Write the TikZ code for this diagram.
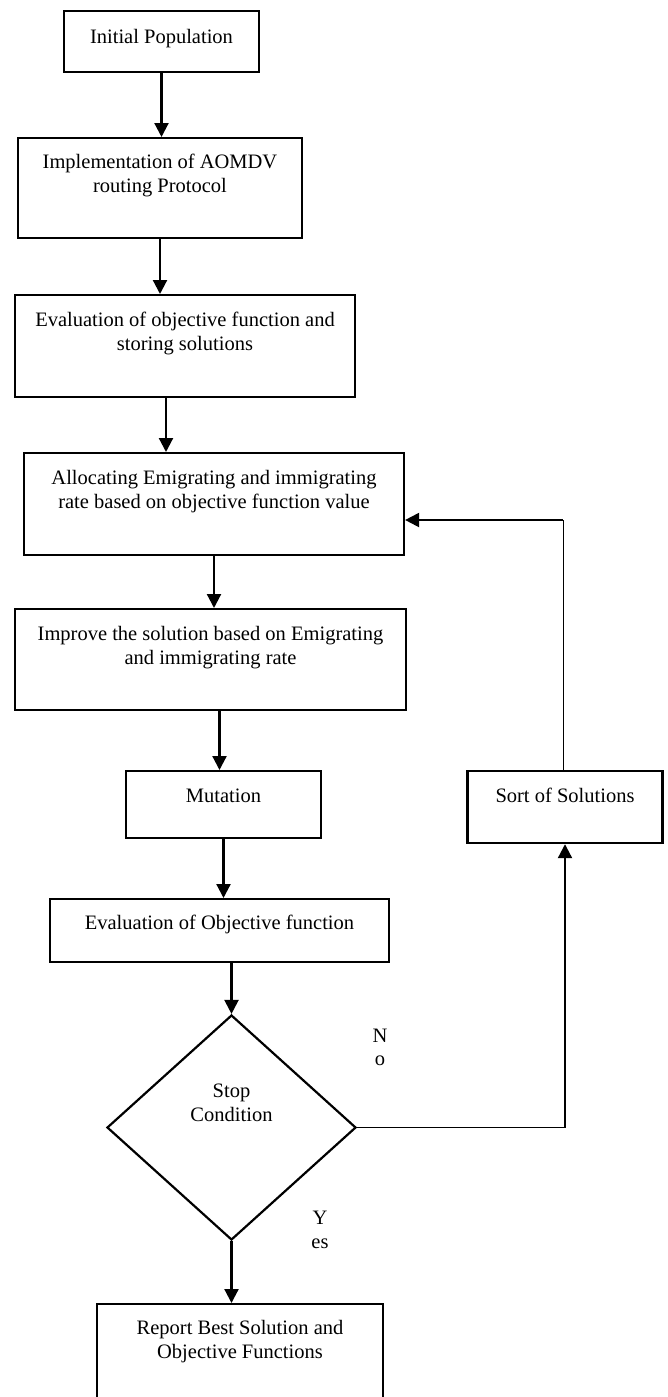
\documentclass[tikz,border=0pt]{standalone}
\usepackage{fontspec}
\setmainfont{Liberation Serif}
\usetikzlibrary{shapes.geometric,arrows.meta}
\newcommand{\myfont}{\fontsize{20.5}{24}\selectfont}
\begin{document}
\begin{tikzpicture}[x=1pt,y=-1pt,
  stepbox/.style={draw,line width=2.2pt,align=center,inner sep=0pt,anchor=north,text height=31pt,font=\myfont},
  twoline/.style={stepbox,text height=55pt},
  decision/.style={draw,diamond,line width=2.2pt,align=center,inner sep=0pt,aspect=1.107,minimum width=249pt,minimum height=225pt,text height=40pt,text depth=53pt,font=\myfont},
  flow/.style={line width=2.2pt,-{Triangle[length=14pt,width=14pt]}},
  plain/.style={line width=1pt},
  lbl/.style={inner sep=0pt,anchor=base,font=\myfont}]

 \useasboundingbox (0,0) rectangle (668,1397);
 \clip (0,0) rectangle (668,1397);

 \node[stepbox,minimum width=195pt,text height=32pt,text depth=29pt] (init) at (161.5,10) {Initial Population};
 \node[twoline,minimum width=284pt,text height=54pt,text depth=46pt] (impl) at (160,137) {Implementation of AOMDV\\routing Protocol};
 \node[twoline,minimum width=340pt,text depth=47pt] (evalobj) at (185,294) {Evaluation of objective function and\\storing solutions};
 \node[twoline,minimum width=380pt,text depth=47pt] (alloc) at (214,452) {Allocating Emigrating and immigrating\\rate based on objective function value};
 \node[twoline,minimum width=391pt,text depth=46pt] (improve) at (210.5,608) {Improve the solution based on Emigrating\\and immigrating rate};
 \node[stepbox,minimum width=195pt,text depth=36pt] (mutation) at (223.5,770) {Mutation};
 \node[stepbox,minimum width=195pt,text depth=41pt] (sort) at (565,770) {Sort of Solutions};
 \node[stepbox,minimum width=339pt,text height=30pt,text depth=33pt] (evalfn) at (219.5,898) {Evaluation of Objective function};
 \node[decision] (stop) at (231.5,1127.5) {Stop\\Condition};
 \node[twoline,minimum width=286pt,text height=54pt,text depth=120pt] (report) at (240,1303) {Report Best Solution and\\Objective Functions};

 \node[lbl] (nlab) at (380,1042) {N};
 \node[lbl] (olab) at (380,1065) {o};
 \node[lbl] (ylab) at (320,1224) {Y};
 \node[lbl] (eslab) at (320,1248) {es};

 \draw[flow] (init.south) -- (init.south |- impl.north);
 \draw[flow] (impl.south) -- (impl.south |- evalobj.north);
 \draw[flow] ([xshift=-19pt]evalobj.south) -- ([xshift=-19pt]evalobj.south |- alloc.north);
 \draw[flow] (alloc.south) -- (alloc.south |- improve.north);
 \draw[flow] ([xshift=-4pt]improve.south -| mutation.north) -- ([xshift=-4pt]mutation.north);
 \draw[flow] (mutation.south) -- (mutation.south |- evalfn.north);
 \draw[flow] (evalfn.south -| stop.north) -- (stop.north);
 \draw[flow] (stop.south) -- (stop.south |- report.north);

 \coordinate (noturn) at (stop.east -| sort.south);
 \draw[plain] (stop.east) -- (noturn);
 \draw[flow] (noturn) -- (sort.south);
 \coordinate (loopback) at ([xshift=-2pt]sort.north |- 0,520);
 \draw[plain] ([xshift=-2pt]sort.north) -- (loopback);
 \draw[flow] (loopback) -- (loopback -| alloc.east);

\end{tikzpicture}
\end{document}
